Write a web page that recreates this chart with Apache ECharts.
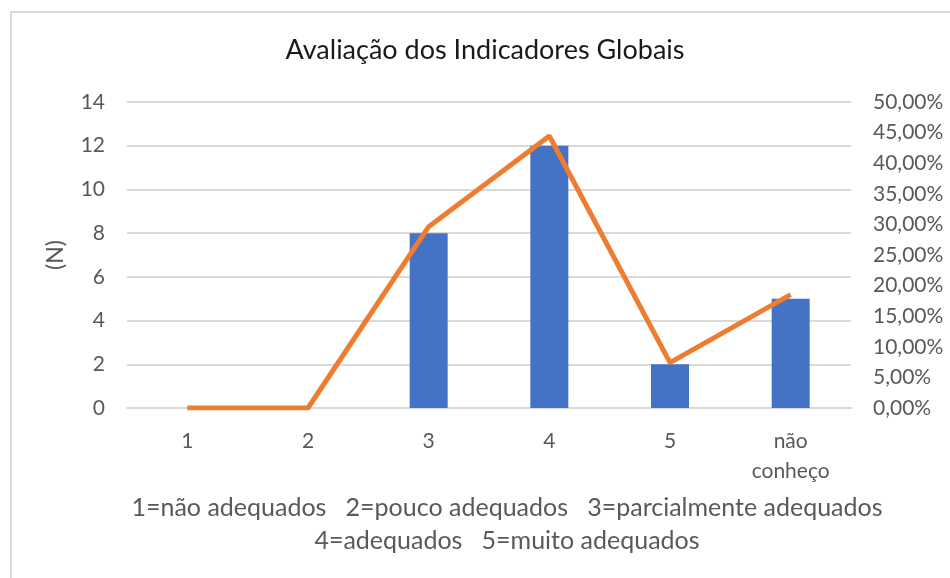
<!DOCTYPE html>
<html>
<head>
<meta charset="utf-8">
<script src="https://cdn.jsdelivr.net/npm/echarts@6/dist/echarts.min.js"></script>
<style>
  html, body { margin: 0; padding: 0; background: #fff; }
  #frame {
    position: absolute; left: 10px; top: 11px; width: 960px; height: 600px;
    border: 2px solid #d9d9d9; box-sizing: border-box;
  }
  #chart { position: absolute; left: 0; top: 0; width: 950px; height: 578px; }
</style>
</head>
<body>
<div id="frame"></div>
<div id="chart"></div>
<script>
// categorias (escala de avaliação)
const categories = ['1', '2', '3', '4', '5', 'não\nconheço']
// contagens (N)
const counts = [0, 0, 8, 12, 2, 5]
// percentagens (%)
const percents = [0, 0, 29.63, 44.44, 7.41, 18.52]
// legenda em baixo
const captionLines = [
  '1=não adequados   2=pouco adequados   3=parcialmente adequados',
  '4=adequados   5=muito adequados'
]

const font = 'Lato, "Open Sans", sans-serif'
const grey = '#595959'

const chart = echarts.init(document.getElementById('chart'), null, {renderer: 'canvas'})

const option = {
  backgroundColor: 'transparent',
  animation: false,
  textStyle: {fontFamily: font},
  grid: {left: 127, right: 99, top: 102, bottom: 170, containLabel: false, outerBoundsMode: 'none'},
  xAxis: {
    type: 'category',
    data: categories,
    axisTick: {show: false},
    axisLine: {show: true, lineStyle: {color: '#d9d9d9', width: 2}},
    axisLabel: {color: grey, fontSize: 21, fontFamily: font, margin: 18, lineHeight: 30}
  },
  yAxis: [
    {
      type: 'value',
      min: 0, max: 14, interval: 2,
      name: '(N)',
      nameLocation: 'middle',
      nameGap: 60,
      nameTextStyle: {color: grey, fontSize: 23, fontFamily: font},
      axisLine: {show: false},
      axisTick: {show: false},
      axisLabel: {color: grey, fontSize: 21, fontFamily: font, margin: 22},
      splitLine: {lineStyle: {color: '#d9d9d9', width: 2}}
    },
    {
      type: 'value',
      min: 0, max: 50, interval: 5,
      position: 'right',
      axisLine: {show: false},
      axisTick: {show: false},
      splitLine: {show: false},
      axisLabel: {
        color: grey, fontSize: 21, fontFamily: font, margin: 22,
        formatter: v => v.toFixed(2).replace('.', ',') + '%'
      }
    }
  ],
  series: [
    {
      name: 'N',
      type: 'bar',
      data: counts,
      yAxisIndex: 0,
      barWidth: 38,
      itemStyle: {color: '#4472C4'}
    },
    {
      name: '%',
      type: 'line',
      data: percents,
      yAxisIndex: 1,
      symbol: 'none',
      lineStyle: {color: '#ED7D31', width: 5},
      z: 3
    }
  ],
  graphic: [
    // titulo
    {
      type: 'text',
      x: 485,
      y: 50,
      style: {
        text: 'Avaliação dos Indicadores Globais', fill: '#1a1a1a',
        font: '27px ' + font, align: 'center', verticalAlign: 'middle'
      }
    },
    ...captionLines.map((t, i) => ({
      type: 'text',
      x: 507,
      y: 508 + i * 33,
      style: {text: t, fill: grey, font: '25px ' + font, align: 'center', verticalAlign: 'middle'}
    }))
  ]
}

chart.setOption(option)
</script>
</body>
</html>
